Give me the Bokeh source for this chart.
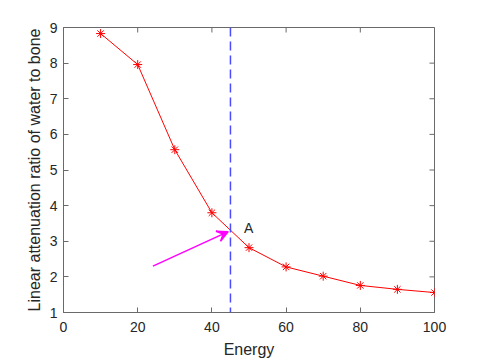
import math
from bokeh.plotting import figure
from bokeh.models import FixedTicker, Arrow, VeeHead, ColumnDataSource, Span
from bokeh.core.properties import value
from bokeh.embed import file_html
from bokeh.resources import INLINE

energy = [10, 20, 30, 40, 50, 60, 70, 80, 90, 100]
ratio = [8.83, 7.96, 5.57, 3.80, 2.82, 2.28, 2.02, 1.76, 1.65, 1.56]
x_ticks = [0, 20, 40, 60, 80, 100]
y_ticks = [1, 2, 3, 4, 5, 6, 7, 8, 9]
marker_energy = 45
arrow_start = (24.1, 2.30)
arrow_end = (44.4, 3.27)
label_pos = (49.9, 3.38)
label_text = ["A"]

FONT = "Liberation Sans"
AX = "#6a6a6a"
TXT = "#262626"

p = figure(width=480, height=360, x_range=(x_ticks[0], x_ticks[-1]), y_range=(y_ticks[0], y_ticks[-1]),
           output_backend="svg", toolbar_location=None,
           min_border_left=63, min_border_right=46, min_border_top=27, min_border_bottom=48)
p.xgrid.visible = False
p.ygrid.visible = False
p.outline_line_color = AX
p.background_fill_color = "white"
p.border_fill_color = "white"

p.xaxis.ticker = FixedTicker(ticks=x_ticks)
p.yaxis.ticker = FixedTicker(ticks=y_ticks)
for ax in (p.xaxis[0], p.yaxis[0]):
    ax.axis_line_color = AX
    ax.major_tick_line_color = AX
    ax.major_tick_in = 5
    ax.major_tick_out = 0
    ax.minor_tick_line_color = None
    ax.major_label_text_font = FONT
    ax.major_label_text_font_size = "14px"
    ax.major_label_text_color = TXT
    ax.axis_label_text_font = FONT
    ax.axis_label_text_font_size = "16px"
    ax.axis_label_text_font_style = "normal"
    ax.axis_label_text_color = TXT
p.xaxis.axis_label = "Energy"
p.yaxis.axis_label = "Linear attenuation ratio of water to bone"
p.xaxis.major_label_standoff = 9
p.xaxis.axis_label_standoff = 6
p.yaxis.major_label_standoff = 6
p.yaxis.axis_label_standoff = 4

# inward ticks on the top and right edges of the box
p.ray(x=x_ticks, y=[y_ticks[-1]] * len(x_ticks), length=5, length_units="screen",
      angle=-math.pi / 2, line_color=AX, line_width=1)
p.ray(x=[x_ticks[-1]] * len(y_ticks), y=y_ticks, length=5, length_units="screen",
      angle=math.pi, line_color=AX, line_width=1)

src = ColumnDataSource(dict(x=energy, y=ratio))
p.line("x", "y", source=src, line_color="#ff0000", line_width=1)
p.scatter("x", "y", source=src, marker="asterisk", size=9, line_color="#ff0000", line_width=1)

p.add_layout(Span(location=marker_energy, dimension="height", line_color="#4b4bff",
                  line_dash="9 5", line_width=1.5))

p.add_layout(Arrow(x_start=arrow_start[0], y_start=arrow_start[1], x_end=arrow_end[0], y_end=arrow_end[1],
                   line_color="#ff00ff", line_width=1.5,
                   end=VeeHead(size=11, line_color="#ff00ff", fill_color="#ff00ff", line_width=1.5)))

p.text(x=[label_pos[0]], y=[label_pos[1]], text=label_text, text_font=value(FONT),
       text_font_size="14px", text_color=TXT, text_align="center", text_baseline="middle")

open("out.html", "w").write(file_html(p, INLINE))
